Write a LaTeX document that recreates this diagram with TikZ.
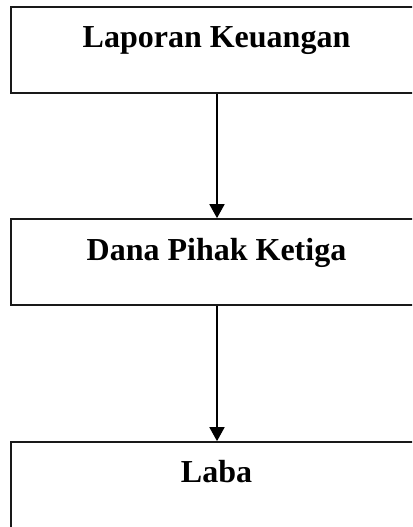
\documentclass[tikz,border=0pt]{standalone}
\usepackage{fontspec}
\setmainfont{Liberation Serif}
\usetikzlibrary{arrows.meta}
\begin{document}
\begin{tikzpicture}[x=1pt,y=-1pt,
  box/.style={draw=black!90, line width=1.7pt, minimum width=411pt, inner sep=0pt, rectangle},
  lbl/.style={font=\fontsize{32}{38}\selectfont\bfseries, anchor=base, inner sep=0pt},
  conn/.style={line width=1.7pt, -{Triangle[length=14pt,width=15pt]}}]
\useasboundingbox (0,0) rectangle (412,527);
\clip (0,0) rectangle (412,527);
\node[box, minimum height=86pt] (b1) at (216.5,50) {};
\node[box, minimum height=86pt] (b2) at (216.5,262) {};
\node[box, minimum height=96pt] (b3) at (216.5,490) {};
\node[lbl] (t1) at (216.5,48) {Laporan Keuangan};
\node[lbl] (t2) at (216.5,260) {Dana Pihak Ketiga};
\node[lbl] (t3) at (216.5,482) {Laba};
\draw[conn] (b1.south -| 217,0) -- (b2.north -| 217,0);
\draw[conn] (b2.south -| 217,0) -- (b3.north -| 217,0);
\end{tikzpicture}
\end{document}
